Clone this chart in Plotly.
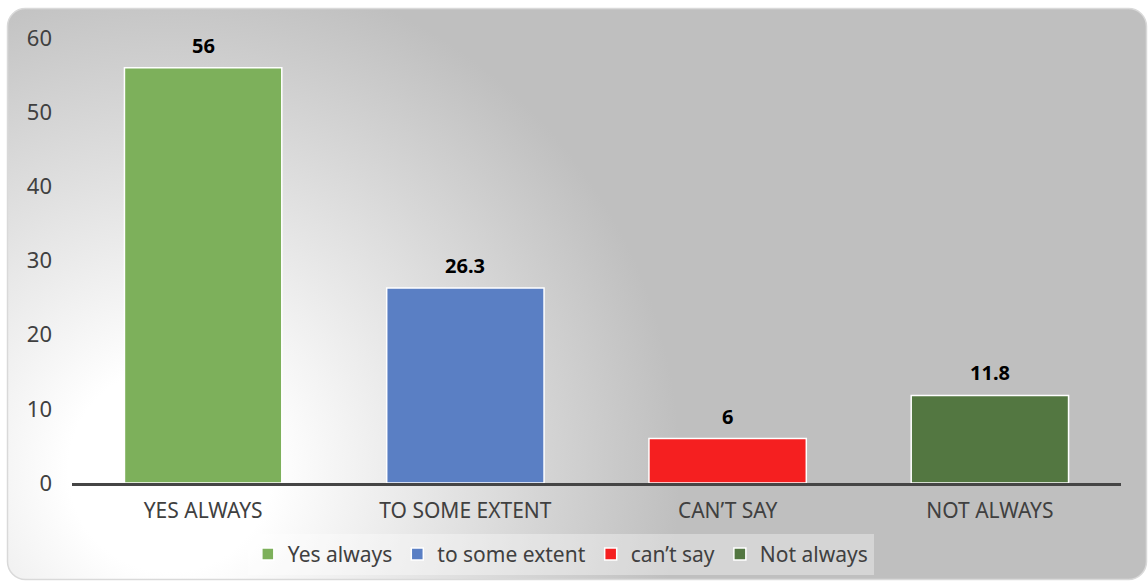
import urllib.parse
import plotly.graph_objects as go

# Survey responses (percent)
categories = ["YES ALWAYS", "TO SOME EXTENT", "CAN’T SAY", "NOT ALWAYS"]
series_names = ["Yes always", "to some extent", "can’t say", "Not always"]
values = [56, 26.3, 6, 11.8]
colors = ["#7db05b", "#5a7fc4", "#f51f20", "#537741"]
y_ticks = [0, 10, 20, 30, 40, 50, 60]

W, H = 1148, 585
ML, MR, MT, MB = 72, 27, 38, 102
FONT = "Noto Sans, Open Sans, sans-serif"

fig = go.Figure()
for cat, name, val, col in zip(categories, series_names, values, colors):
    fig.add_trace(go.Bar(
        x=[cat], y=[val], name=name,
        marker=dict(color=col, line=dict(color="white", width=1.5)),
        width=0.6,
    ))
    # value label above each bar
    fig.add_annotation(
        x=cat, y=val, text=f"<b>{val:g}</b>", showarrow=False,
        yanchor="bottom", yshift=7,
        font=dict(family=FONT, size=20, color="black"),
    )

# Chart-area backdrop: rounded frame with a soft radial light in the lower left
svg = f"""<svg xmlns='http://www.w3.org/2000/svg' width='{W}' height='{H}' viewBox='0 0 {W} {H}' preserveAspectRatio='none'>
<defs><radialGradient id='g' gradientUnits='userSpaceOnUse' cx='170' cy='470' r='600'>
<stop offset='0' stop-color='#ffffff'/><stop offset='0.17' stop-color='#ffffff'/>
<stop offset='0.85' stop-color='#bfbfbf'/><stop offset='1' stop-color='#bfbfbf'/></radialGradient></defs>
<rect x='0' y='0' width='{W}' height='{H}' fill='#ffffff'/>
<rect x='7.5' y='8.5' width='{W-9}' height='{H-14}' rx='18' ry='18' fill='url(#g)' stroke='#d9d9d9' stroke-width='1.5'/>
</svg>"""
src = "data:image/svg+xml;charset=utf-8," + urllib.parse.quote(svg)

pw, ph = W - ML - MR, H - MT - MB
fig.add_layout_image(dict(
    source=src, xref="paper", yref="paper",
    x=-ML / pw, y=1 + MT / ph, sizex=W / pw, sizey=H / ph,
    xanchor="left", yanchor="top", sizing="stretch", layer="below",
))

fig.update_layout(
    width=W, height=H,
    margin=dict(l=ML, r=MR, t=MT, b=MB, autoexpand=False),
    paper_bgcolor="white", plot_bgcolor="rgba(0,0,0,0)",
    barmode="overlay",
    font=dict(family=FONT, color="#595959"),
    showlegend=True,
    legend=dict(
        orientation="h", x=0.466, xanchor="center", y=-0.114, yanchor="top",
        bgcolor="rgba(255,255,255,0.35)", borderwidth=0,
        font=dict(family=FONT, size=21, color="#404040"),
        itemwidth=30, traceorder="normal",
    ),
    xaxis=dict(
        categoryorder="array", categoryarray=categories,
        showline=True, linecolor="#454545", linewidth=3,
        showgrid=False, ticks="", zeroline=False,
        tickfont=dict(family=FONT, size=21, color="#404040"),
        ticklabelstandoff=7, automargin=False,
    ),
    yaxis=dict(
        range=[0, 60], tickvals=y_ticks, showgrid=False, zeroline=False,
        showline=False, ticks="",
        tickfont=dict(family=FONT, size=22, color="#404040"),
        ticklabelstandoff=19, automargin=False,
    ),
)

fig.write_html("out.html")
